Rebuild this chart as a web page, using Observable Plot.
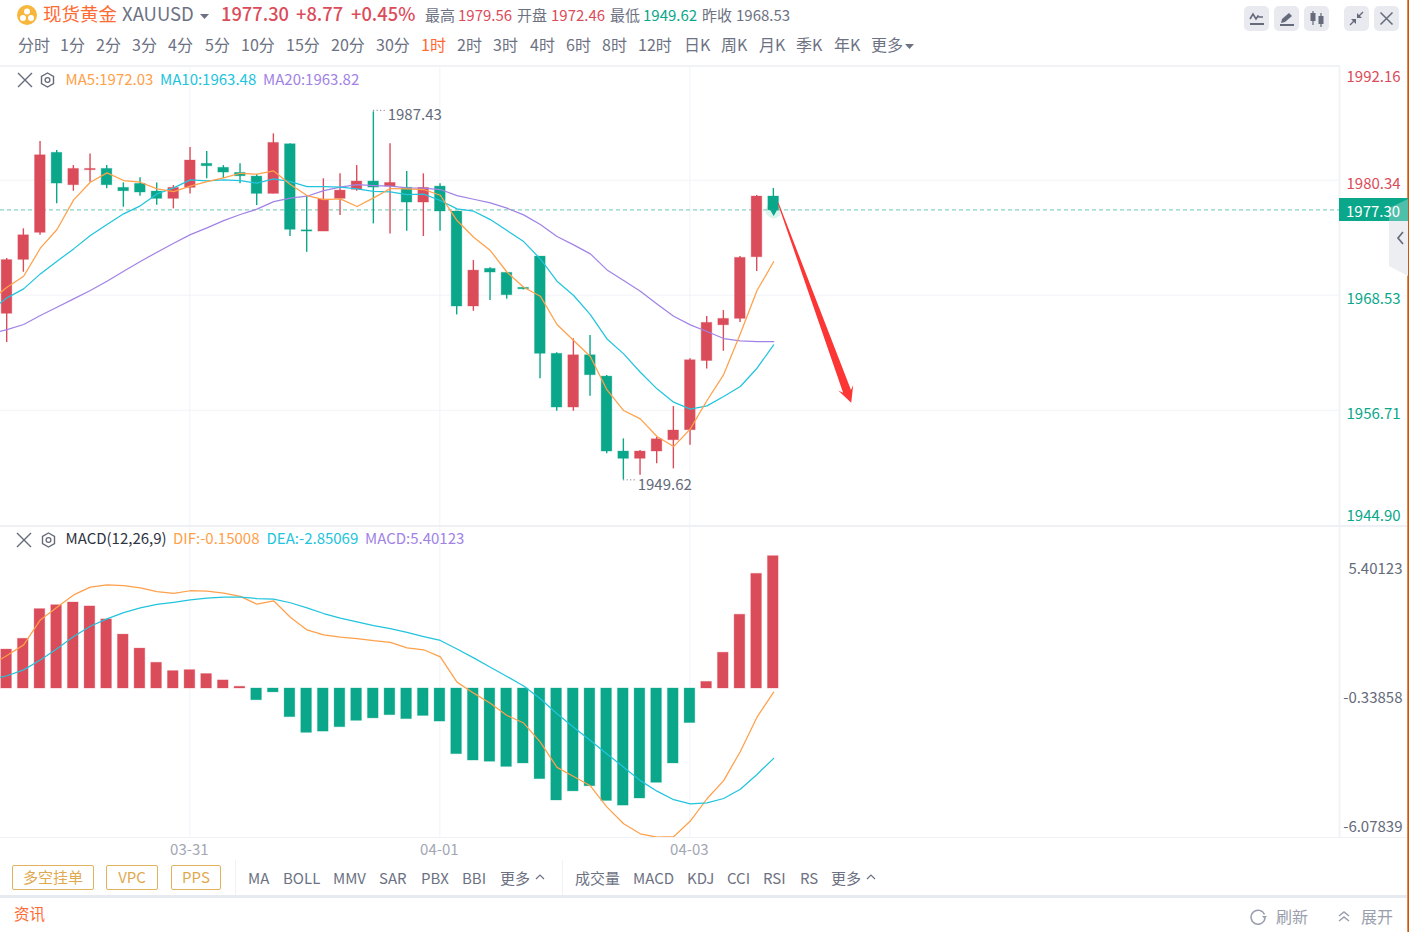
<!DOCTYPE html>
<html lang="zh">
<head>
<meta charset="utf-8">
<title>现货黄金 XAUUSD</title>
<script src="https://cdn.jsdelivr.net/npm/d3@7"></script>
<script src="https://cdn.jsdelivr.net/npm/@observablehq/plot@0.6"></script>
<style>
html,body{margin:0;padding:0;background:#fff;width:1409px;height:932px;overflow:hidden}
body{position:relative;font-family:"Noto Sans CJK SC","Noto Sans",sans-serif}
.t{position:absolute;white-space:nowrap;line-height:1;transform:translateY(-50%)}
.pane{position:absolute;left:0}
.ln{position:absolute;background:#f1f2f7}
.ic{position:absolute}
.ic svg{display:block}
.btn{position:absolute;box-sizing:border-box;border:1px solid #e3b25f;border-radius:2px;color:#dfa94f;font-size:15px;line-height:22px;text-align:center;height:25px;top:865px}
.sq{position:absolute;top:6px;width:25px;height:25px;border-radius:5px;background:#e8eaf0}
.sq svg{display:block}
</style>
</head>
<body>
<script>
// ---------- chart data ----------
const opens = [1966.68,1972.22,1975.00,1983.22,1979.89,1981.43,1981.57,1979.62,1980.03,1979.24,1978.49,1979.62,1982.09,1981.68,1981.16,1980.78,1979.00,1984.10,1975.26,1975.13,1978.49,1979.42,1980.27,1979.75,1979.62,1978.11,1979.75,1977.19,1967.43,1971.30,1970.89,1969.35,1972.56,1962.57,1957.05,1962.42,1960.23,1952.53,1951.78,1952.53,1953.69,1954.72,1961.83,1965.50,1966.16,1972.49,1978.73];
const highs = [1972.36,1975.41,1984.38,1983.45,1981.91,1983.11,1981.91,1980.13,1980.65,1980.13,1979.86,1983.76,1983.35,1981.91,1982.09,1980.99,1985.17,1984.14,1978.83,1980.55,1981.06,1981.91,1987.43,1984.14,1981.30,1981.06,1980.03,1977.19,1972.15,1971.40,1970.89,1969.41,1972.56,1962.67,1964.11,1964.45,1960.34,1953.83,1952.63,1954.00,1957.15,1962.05,1966.40,1967.01,1972.56,1978.83,1979.56];
const lows = [1963.73,1970.95,1974.75,1977.98,1979.27,1980.20,1979.52,1977.63,1978.76,1977.83,1977.46,1979.00,1980.55,1980.58,1980.03,1977.80,1979.00,1974.62,1973.00,1975.13,1976.77,1979.27,1975.92,1974.89,1975.16,1974.62,1975.16,1966.57,1966.94,1968.04,1968.18,1969.14,1960.00,1956.67,1956.67,1958.21,1952.29,1949.62,1950.09,1951.27,1950.75,1953.18,1961.02,1962.83,1965.78,1971.02,1977.11];
const closes = [1972.20,1974.75,1982.97,1980.06,1981.57,1981.57,1979.89,1979.27,1979.14,1978.49,1979.62,1982.43,1981.84,1981.19,1980.81,1979.00,1984.24,1975.31,1975.13,1978.42,1979.34,1980.27,1979.65,1980.13,1978.11,1979.62,1977.19,1967.43,1971.12,1970.92,1968.59,1969.20,1962.57,1957.05,1962.42,1960.37,1952.53,1951.78,1952.53,1953.79,1954.69,1961.91,1965.75,1966.16,1972.43,1978.73,1977.30];
// moving averages and MACD lines start one session before the first visible candle
const ma5 = [1968.04,1969.41,1970.54,1973.42,1975.34,1978.38,1980.20,1981.16,1980.37,1980.20,1979.51,1979.24,1979.79,1980.27,1980.64,1981.12,1981.02,1981.36,1979.96,1978.83,1978.42,1978.49,1977.70,1978.59,1979.55,1979.51,1979.45,1978.86,1976.26,1974.55,1973.18,1970.95,1969.41,1968.49,1965.58,1963.93,1962.29,1958.86,1956.74,1955.88,1954.07,1953.04,1954.86,1957.77,1960.44,1964.62,1969.07,1972.03];
const ma10 = [1967.01,1968.32,1969.24,1970.78,1972.08,1973.35,1974.72,1975.85,1976.95,1977.77,1979.00,1979.62,1980.44,1980.34,1980.44,1980.37,1980.10,1980.54,1980.27,1979.75,1979.75,1979.69,1979.51,1979.27,1979.21,1978.93,1978.97,1978.32,1977.46,1977.22,1976.36,1975.23,1974.10,1972.32,1970.03,1968.56,1966.60,1964.10,1962.56,1960.68,1958.97,1957.60,1956.88,1957.22,1958.18,1959.21,1961.09,1963.48];
const ma20 = [1964.62,1965.06,1965.58,1966.50,1967.36,1968.21,1969.07,1970.03,1971.06,1972.05,1973.01,1973.93,1974.82,1975.51,1976.26,1976.88,1977.43,1978.21,1978.56,1978.76,1979.34,1979.69,1979.96,1979.86,1979.79,1979.62,1979.58,1979.45,1978.83,1978.45,1978.08,1977.53,1976.84,1975.85,1974.62,1973.76,1972.84,1971.19,1970.10,1969.00,1967.70,1966.43,1965.54,1964.86,1964.14,1963.90,1963.82,1963.82];
const macdHist = [1.59,2.03,3.24,3.40,3.51,3.35,2.82,2.20,1.63,1.05,0.71,0.75,0.59,0.33,0.07,-0.48,-0.16,-1.17,-1.81,-1.76,-1.58,-1.32,-1.22,-1.09,-1.25,-1.12,-1.35,-2.68,-2.94,-2.99,-3.20,-3.06,-3.70,-4.57,-4.20,-3.99,-4.59,-4.78,-4.49,-3.85,-3.06,-1.41,0.27,1.46,3.01,4.68,5.40123];
const dif = [0.94,1.35,1.78,2.80,3.32,3.82,4.14,4.23,4.20,4.11,3.95,3.88,3.99,3.97,3.89,3.76,3.44,3.58,2.91,2.39,2.19,2.10,2.04,1.95,1.88,1.66,1.58,1.29,0.26,-0.19,-0.60,-1.10,-1.41,-2.19,-3.22,-3.59,-3.97,-4.84,-5.52,-5.93,-6.07,-6.05,-5.41,-4.50,-3.76,-2.57,-1.17,-0.15008];
const dea = [0.37,0.52,0.76,1.16,1.62,2.12,2.54,2.84,3.10,3.29,3.43,3.52,3.62,3.69,3.73,3.73,3.67,3.65,3.50,3.29,3.06,2.87,2.72,2.57,2.44,2.29,2.12,1.96,1.61,1.25,0.87,0.49,0.10,-0.42,-1.03,-1.58,-2.12,-2.67,-3.21,-3.76,-4.19,-4.54,-4.71,-4.67,-4.49,-4.11,-3.51,-2.85069];
const priceTicks = [1992.16,1980.34,1968.53,1956.71,1944.90];
const macdTicks = [5.40123,-0.33858,-6.07839];
const dateLabels = ["03-31","04-01","04-03"];
const dateIndex = [11,26,41];
const lastPrice = 1977.30;
const peakIndex = 22, peakPrice = 1987.43;
const troughIndex = 37, troughPrice = 1949.62;
const arrowFrom = [46.3,1978.01];
const arrowTo = [50.68,1957.5];

// ---------- palette ----------
const RED="#db4c5a",GREEN="#0aa78a",ORANGE="#ffa04a",CYAN="#22c4dd",PURPLE="#a183e6",GRID="#f2f3f8",GREY="#656b7b",TAB="#6d7283",BRAND="#ff6a33";
const FONT='"Noto Sans CJK SC","Noto Sans",sans-serif';

const idx = opens.map((_,i)=>i);
const candles = idx.map(i=>({i,o:opens[i],h:highs[i],l:lows[i],c:closes[i],color:closes[i]>=opens[i]?RED:GREEN}));
const bars = idx.map(i=>({i,v:macdHist[i],color:macdHist[i]>=0?RED:GREEN}));
const xDomain=[-0.39,79.95];
const halfBody=0.32;
const lineOf=(arr,stroke)=>Plot.line(arr.map((v,k)=>({i:k-1,v})),{x:"i",y:"v",stroke,strokeWidth:1.25,clip:true,curve:"linear"});

function arrowMark(index,{x,y}){
  const sx=x(arrowFrom[0]),sy=y(arrowFrom[1]),tx=x(arrowTo[0]),ty=y(arrowTo[1]);
  const L=Math.hypot(tx-sx,ty-sy),ux=(tx-sx)/L,uy=(ty-sy)/L,nx=-uy,ny=ux;
  const pt=(along,side)=>[tx-ux*along+nx*side,ty-uy*along+ny*side];
  const pts=[[sx-nx*.5,sy-ny*.5],pt(12,-4.2),pt(16,-8),[tx,ty],pt(16,8),pt(12,4.2),[sx+nx*.5,sy+ny*.5]];
  const p=document.createElementNS("http://www.w3.org/2000/svg","polygon");
  p.setAttribute("points",pts.map(q=>q.map(n=>n.toFixed(1)).join(",")).join(" "));
  p.setAttribute("fill","#fc3535");
  return p;
}

// ---------- price pane ----------
const priceChart = Plot.plot({
  width:1409,height:470,marginLeft:0,marginRight:70,marginTop:5.3,marginBottom:4.7,
  style:{fontFamily:FONT,fontSize:"15px",background:"transparent",overflow:"visible"},
  x:{domain:xDomain,axis:null},
  y:{domain:[1944.90,1992.16],axis:null},
  marks:[
    Plot.gridX(dateIndex,{stroke:GRID,strokeOpacity:1,dx:-0.5}),
    Plot.gridY(priceTicks.slice(1,4),{stroke:GRID,strokeOpacity:1,dy:-0.6}),
    Plot.ruleX([xDomain[1]],{stroke:GRID,strokeWidth:2}),
    Plot.ruleY([lastPrice],{stroke:"#8ad3c4",strokeDasharray:"4 3",strokeWidth:1.2,dy:-0.6}),
    Plot.ruleX(candles,{x:"i",y1:"l",y2:"h",stroke:"color",strokeWidth:1.4,dx:-0.3}),
    Plot.rect(candles,{x1:d=>d.i-halfBody,x2:d=>d.i+halfBody,y1:"o",y2:"c",fill:"color",stroke:"color",strokeOpacity:.3,strokeWidth:1}),
    lineOf(ma20,PURPLE),lineOf(ma10,CYAN),lineOf(ma5,ORANGE),
    Plot.dot([{i:46,v:lastPrice}],{x:"i",y:"v",r:8,fill:GREEN,fillOpacity:.14}),
    Plot.dot([{i:46,v:lastPrice}],{x:"i",y:"v",symbol:"triangle",rotate:180,r:3.5,fill:GREEN}),
    Plot.ruleY([peakPrice],{x1:peakIndex,x2:peakIndex+.78,stroke:GREY,strokeDasharray:"1 2.5",dy:-1.5}),
    Plot.ruleY([troughPrice],{x1:troughIndex,x2:troughIndex+.78,stroke:GREY,strokeDasharray:"1 2.5"}),
    Plot.text([peakPrice],{x:peakIndex,y:d=>d,text:d=>d.toFixed(2),dx:14,dy:3,textAnchor:"start",fill:GREY,fontSize:15}),
    Plot.text([troughPrice],{x:troughIndex,y:d=>d,text:d=>d.toFixed(2),dx:14,dy:5,textAnchor:"start",fill:GREY,fontSize:15}),
    arrowMark,
    Plot.axisY([priceTicks[0]],{anchor:"right",label:null,tickSize:0,tickPadding:7,dy:11.7,fill:RED,tickFormat:d=>d.toFixed(2)}),
    Plot.axisY([priceTicks[1]],{anchor:"right",label:null,tickSize:0,tickPadding:7,dy:3,fill:RED,tickFormat:d=>d.toFixed(2)}),
    Plot.axisY(priceTicks.slice(2,4),{anchor:"right",label:null,tickSize:0,tickPadding:7,dy:3,fill:GREEN,tickFormat:d=>d.toFixed(2)}),
    Plot.axisY([priceTicks[4]],{anchor:"right",label:null,tickSize:0,tickPadding:7,dy:-10,fill:GREEN,tickFormat:d=>d.toFixed(2)})
  ]
});
priceChart.classList.add("pane");priceChart.style.top="60px";
document.body.appendChild(priceChart);

// ---------- MACD pane ----------
const macdChart = Plot.plot({
  width:1409,height:334,marginLeft:0,marginRight:70,marginTop:0,marginBottom:23,
  style:{fontFamily:FONT,fontSize:"15px",background:"transparent",overflow:"visible"},
  x:{domain:xDomain,axis:null},
  y:{domain:[-6.08163,6.61224],axis:null},
  marks:[
    Plot.gridX(dateIndex,{stroke:GRID,strokeOpacity:1,dx:-0.5}),
    Plot.ruleX([xDomain[1]],{stroke:GRID,strokeWidth:2}),
    Plot.rect(bars,{x1:d=>d.i-halfBody,x2:d=>d.i+halfBody,y1:0,y2:"v",fill:"color",stroke:"color",strokeOpacity:.3,strokeWidth:1,dx:-0.4}),
    lineOf(dif,ORANGE),lineOf(dea,CYAN),
    Plot.axisY([macdTicks[0]],{anchor:"right",label:null,tickSize:0,tickPadding:63,textAnchor:"end",dy:13.5,fill:GREY,tickFormat:d=>d.toFixed(5)}),
    Plot.axisY([macdTicks[1]],{anchor:"right",label:null,tickSize:0,tickPadding:63,textAnchor:"end",dy:1,fill:GREY,tickFormat:d=>d.toFixed(5)}),
    Plot.axisY([macdTicks[2]],{anchor:"right",label:null,tickSize:0,tickPadding:63,textAnchor:"end",dy:-10.5,fill:GREY,tickFormat:d=>d.toFixed(5)}),
    Plot.axisX(dateIndex,{anchor:"bottom",label:null,tickSize:0,tickPadding:7,dx:-1,fill:"#a3a7b4",fontSize:15,tickFormat:d=>dateLabels[dateIndex.indexOf(d)]})
  ]
});
macdChart.classList.add("pane");macdChart.style.top="526px";
document.body.appendChild(macdChart);

// ---------- page furniture ----------
const put=(text,x,y,size,color,extra)=>{const e=document.createElement("div");e.className="t";e.textContent=text;e.style.cssText+=`left:${x}px;top:${y-1}px;font-size:${size}px;color:${color};${extra||""}`;document.body.appendChild(e);return e;};
const box=(x,y,w,h,c)=>{const e=document.createElement("div");e.className="ln";e.style.cssText+=`left:${x}px;top:${y}px;width:${w}px;height:${h}px;background:${c||"#f1f2f7"}`;document.body.appendChild(e);};
const svgAt=(x,y,w,h,inner)=>{const e=document.createElement("div");e.className="ic";e.style.cssText=`left:${x}px;top:${y}px;width:${w}px;height:${h}px`;e.innerHTML=`<svg width="${w}" height="${h}" viewBox="0 0 ${w} ${h}">${inner}</svg>`;document.body.appendChild(e);};

// pane borders
box(0,65,1339,2);box(0,525,1408,2,"#eff0f5");box(0,837,1408,1,"#f0f1f6");
box(235,860,1,35);box(562,860,1,35);box(0,895,1408,3,"#e8eaf1");
box(1408,0,1,932,"#c9560f");box(1407,0,1,932,"#e58a4e");

// header row
svgAt(16,4,22,22,`<circle cx="11" cy="11" r="10" fill="#f6b73c"/><circle cx="11" cy="7.5" r="3" fill="#fff"/><circle cx="7" cy="14" r="3" fill="#fff"/><circle cx="15" cy="14" r="3" fill="#fff"/>`);
put("现货黄金",43,13.5,18.5,BRAND);
put("XAUUSD",122,13.5,18.5,TAB);
svgAt(200,14,9,6,`<path d="M0 0h9L4.5 5z" fill="${TAB}"/>`);
const quoteText=["1977.30","+8.77","+0.45%"],quoteX=[221,296,351];
quoteText.forEach((s,k)=>put(s,quoteX[k],13.5,18.3,RED,"font-weight:500"));
const statText=["最高","1979.56","开盘","1972.46","最低","1949.62","昨收","1968.53"];
const statX=[425,458,517,551,610,643,702,736];
const statColor=[TAB,RED,TAB,RED,TAB,GREEN,TAB,TAB];
statText.forEach((s,k)=>put(s,statX[k],14.5,15,statColor[k]));

// period tabs
const tabText=["分时","1分","2分","3分","4分","5分","10分","15分","20分","30分","1时","2时","3时","4时","6时","8时","12时","日K","周K","月K","季K","年K","更多"];
const tabX=[18,60,96,132,168,205,241,286,331,376,421,457,493,530,566,602,638,684,721,759,796,834,871];
tabText.forEach((s,k)=>put(s,tabX[k],45,16,s==="1时"?BRAND:TAB));
svgAt(905,44,9,6,`<path d="M0 0h9L4.5 5z" fill="${TAB}"/>`);

// top-right buttons
const sqX=[1244,1274,1304,1344,1374];
const sqIcon=[
 `<path d="M6 13l3-5 3 5 2-3 1 1h4" fill="none" stroke="${GREY}" stroke-width="1.6"/><path d="M6 18h14" stroke="${GREY}" stroke-width="2"/>`,
 `<path d="M7 17l1-4 7-6 3 3-7 6z" fill="${GREY}"/><path d="M6 19h14" stroke="${GREY}" stroke-width="2"/>`,
 `<path d="M9 5v14M17 7v14" stroke="${GREY}" stroke-width="1.2"/><rect x="6.5" y="7" width="5" height="8" fill="${GREY}"/><rect x="14.5" y="10" width="5" height="8" fill="${GREY}"/>`,
 `<path d="M19 6l-5 5M6 19l5-5" stroke="${GREY}" stroke-width="1.4"/><path d="M13 7v5h5M7 13h5v5" fill="${GREY}"/>`,
 `<path d="M6.5 6.5l12 12M18.5 6.5l-12 12" stroke="${GREY}" stroke-width="1.5"/>`];
sqX.forEach((x,k)=>{const e=document.createElement("div");e.className="sq";e.style.left=x+"px";e.innerHTML=`<svg width="25" height="25">${sqIcon[k]}</svg>`;document.body.appendChild(e);});

// pane legends
const crossIcon=`<path d="M1 1l14 14M15 1L1 15" stroke="${GREY}" stroke-width="1.4"/>`;
const hexIcon=`<path d="M7.5 1l6 3.4v7.2l-6 3.4-6-3.4V4.4z" fill="none" stroke="${GREY}" stroke-width="1.4"/><circle cx="7.5" cy="8" r="2.4" fill="none" stroke="${GREY}" stroke-width="1.3"/>`;
svgAt(17,72,16,16,crossIcon);svgAt(40,72,15,16,hexIcon);
svgAt(16,532,16,16,crossIcon);svgAt(41,532,15,16,hexIcon);
put("MA5:1972.03",65.5,79,15,ORANGE);
put("MA10:1963.48",160,79,15,CYAN);
put("MA20:1963.82",263,79,15,PURPLE);
put("MACD(12,26,9)",65.5,538,15,"#2f3442");
put("DIF:-0.15008",173,538,15,ORANGE);
put("DEA:-2.85069",266.5,538,15,CYAN);
put("MACD:5.40123",365,538,15,PURPLE);

// side tab, last price badge
svgAt(1389,199,19,78,`<path d="M19 0L0 9v58l19 10z" fill="#eceef2"/><path d="M14 33l-5 6 5 6" fill="none" stroke="${GREY}" stroke-width="1.7"/>`);
box(1339,198,69,23,GREEN);
svgAt(1389,198,19,23,`<path d="M19 1L0 10v13h19z" fill="#fff" fill-opacity=".28"/>`);
put("1977.30",1346,211,15,"#fff");

// bottom toolbar
const btnText=["多空挂单","VPC","PPS"],btnX=[12,106,171],btnW=[82,52,50];
btnText.forEach((s,k)=>{const e=document.createElement("div");e.className="btn";e.textContent=s;e.style.left=btnX[k]+"px";e.style.width=btnW[k]+"px";document.body.appendChild(e);});
const toolText=["MA","BOLL","MMV","SAR","PBX","BBI","更多","成交量","MACD","KDJ","CCI","RSI","RS","更多"];
const toolX=[248,283,333,379,421,462,500,575,633,687,727,763,800,831];
toolText.forEach((s,k)=>put(s,toolX[k],878,15,TAB));
const caret=`<path d="M1 6l4-4 4 4" fill="none" stroke="${TAB}" stroke-width="1.2"/>`;
svgAt(535,873,10,8,caret);svgAt(866,873,10,8,caret);

// footer
put("资讯",14,914.5,15.5,BRAND);
put("刷新",1276,916.5,16,"#9a9eac");
put("展开",1361,916.5,16,"#9a9eac");
svgAt(1249,907,18,18,`<path d="M15.5 7.5A7 7 0 1 0 16 11" fill="none" stroke="#9a9eac" stroke-width="1.5"/><path d="M13 9h5l-2.5 3z" fill="#9a9eac"/>`);
svgAt(1337,909,14,14,`<path d="M2 7l5-4 5 4M2 12l5-4 5 4" fill="none" stroke="#9a9eac" stroke-width="1.5"/>`);
</script>
</body>
</html>
